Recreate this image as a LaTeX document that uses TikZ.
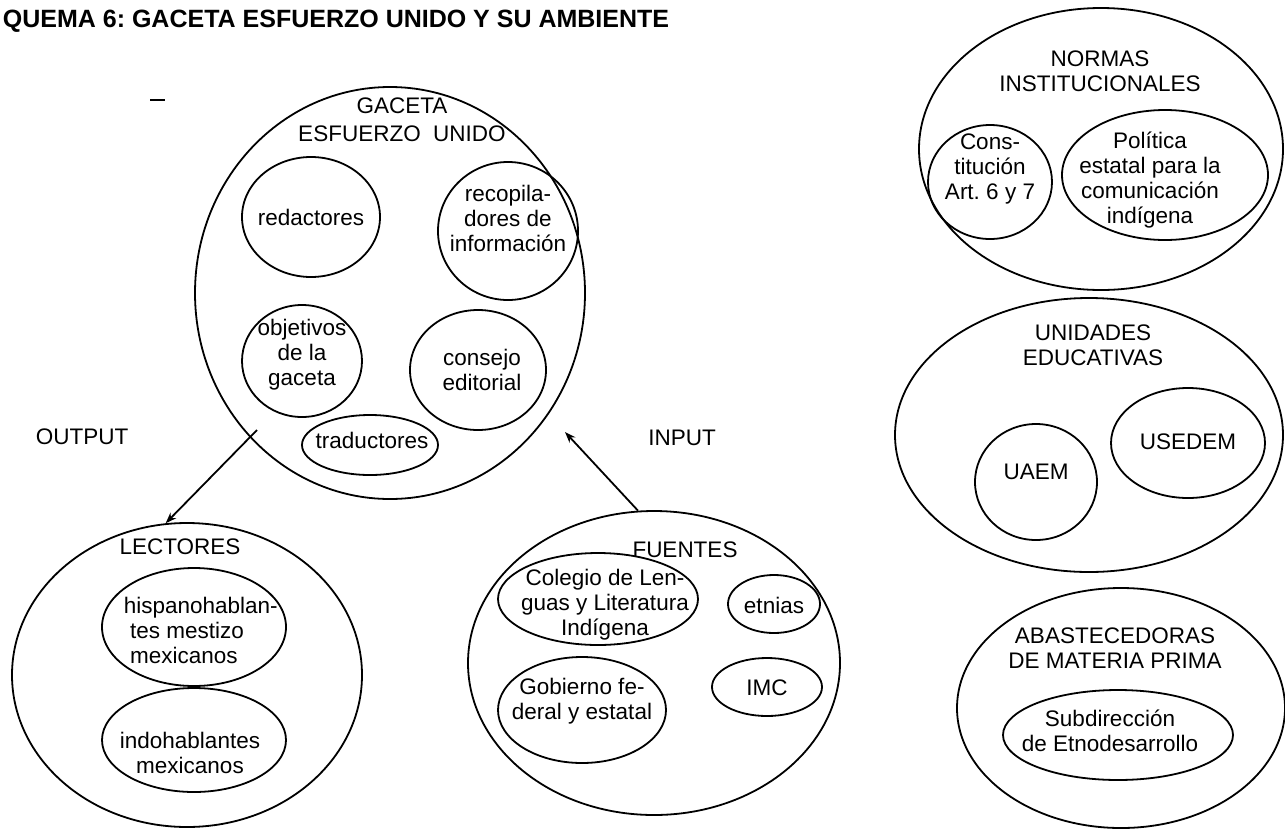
\documentclass[tikz,border=0pt]{standalone}
\usepackage{fontspec}
\setmainfont{Liberation Sans}
\usetikzlibrary{shapes.geometric,arrows.meta}
\frenchspacing
\begin{document}
\begin{tikzpicture}[x=1pt,y=-1pt,line width=1.8pt,
  ell/.style={draw,ellipse,inner sep=0pt},
  txt/.style={font=\fontsize{22.5}{25}\selectfont,align=center,inner sep=0pt},
  arr/.style={-{Stealth[length=11pt,width=8pt]},line width=1.8pt}]
\useasboundingbox (0,0) rectangle (1285,828);

% title
\node[anchor=base west,inner sep=0pt,font=\bfseries\fontsize{25}{27}\selectfont] (title) at (2,27) {QUEMA 6: GACETA ESFUERZO UNIDO Y SU AMBIENTE};
\draw (150,100) -- (165,100);

% GACETA
\node[ell,minimum width=390,minimum height=412] (gac) at (390,293) {};
\node[txt] (gact) at (402,120) {GACETA\\[3pt]ESFUERZO\ \ UNIDO};
\node[ell,minimum width=138,minimum height=120] (red) at (311,217) {};
\node[txt] (redt) at (311,217) {redactores};
\node[ell,minimum width=140,minimum height=138] (rec) at (508,231) {};
\node[txt] (rect) at (508,218) {recopila-\\dores de\\informaci\'on};
\node[ell,minimum width=120,minimum height=112] (obj) at (302,361) {};
\node[txt] (objt) at (302,355) {objetivos\\de la\\gaceta};
\node[ell,minimum width=136,minimum height=120] (con) at (478,370) {};
\node[txt] (cont) at (482,370) {consejo\\editorial};
\node[ell,minimum width=136,minimum height=60] (tra) at (370,445) {};
\node[txt] (trat) at (372,440) {traductores};

% labels
\node[txt] (outl) at (82,437) {OUTPUT};
\node[txt] (inl) at (682,438) {INPUT};

% LECTORES
\node[ell,minimum width=350,minimum height=304] (lec) at (187,675) {};
\node[txt] (lect) at (180,547) {LECTORES};
\node[ell,minimum width=184,minimum height=118] (his) at (194,627) {};
\node[txt,align=left,anchor=west] (hist) at (123,630) {hispanohablan-\\\ tes mestizo\\\ mexicanos};
\node[ell,minimum width=184,minimum height=104] (ind) at (194,740) {};
\node[txt] (indt) at (190,753) {indohablantes\\mexicanos};

% FUENTES
\node[ell,minimum width=372,minimum height=304] (fue) at (654,663) {};
\node[txt] (fuet) at (685,550) {FUENTES};
\node[ell,minimum width=200,minimum height=92] (col) at (598,599) {};
\node[txt] (colt) at (605,605) {Colegio de Len-\\guas y Literatura\\Ind\'igena};
\node[ell,minimum width=92,minimum height=58] (etn) at (774,604) {};
\node[txt] (etnt) at (774,605) {etnias};
\node[ell,minimum width=168,minimum height=106] (gob) at (582,710) {};
\node[txt] (gobt) at (582,701) {Gobierno fe-\\deral y estatal};
\node[ell,minimum width=110,minimum height=58] (imc) at (767,687) {};
\node[txt] (imct) at (767,688) {IMC};

% arrows
\coordinate (outS) at (257,430);
\draw[arr] (outS) -- (lec.98);
\coordinate (inT) at (565,432);
\draw[arr] (fue.96) -- (inT);

% NORMAS
\node[ell,minimum width=364,minimum height=282] (nor) at (1101,149) {};
\node[txt] (nort) at (1100,71) {NORMAS\\INSTITUCIONALES};
\node[ell,minimum width=124,minimum height=114] (cons) at (990,182) {};
\node[txt] (const) at (990,169) {Cons-\\tituci\'on\\Art. 6 y 7};
\node[ell,minimum width=206,minimum height=130] (pol) at (1165,175) {};
\node[txt] (polt) at (1150,180) {Pol\'itica\\estatal para la\\comunicaci\'on\\ind\'igena};

% UNIDADES
\node[ell,minimum width=388,minimum height=274] (uni) at (1089,435) {};
\node[txt] (unit) at (1093,345) {UNIDADES\\EDUCATIVAS};
\node[ell,minimum width=122,minimum height=116] (uaem) at (1036,482) {};
\node[txt] (uaemt) at (1036,472) {UAEM};
\node[ell,minimum width=154,minimum height=110] (used) at (1188,443) {};
\node[txt] (usedt) at (1188,442) {USEDEM};

% ABASTECEDORAS
\node[ell,minimum width=328,minimum height=240] (aba) at (1121,708) {};
\node[txt] (abat) at (1115,648) {ABASTECEDORAS\\DE MATERIA PRIMA};
\node[ell,minimum width=230,minimum height=90] (sub) at (1118,735) {};
\node[txt] (subt) at (1110,731) {Subdirecci\'on\\de Etnodesarrollo};
\end{tikzpicture}
\end{document}
